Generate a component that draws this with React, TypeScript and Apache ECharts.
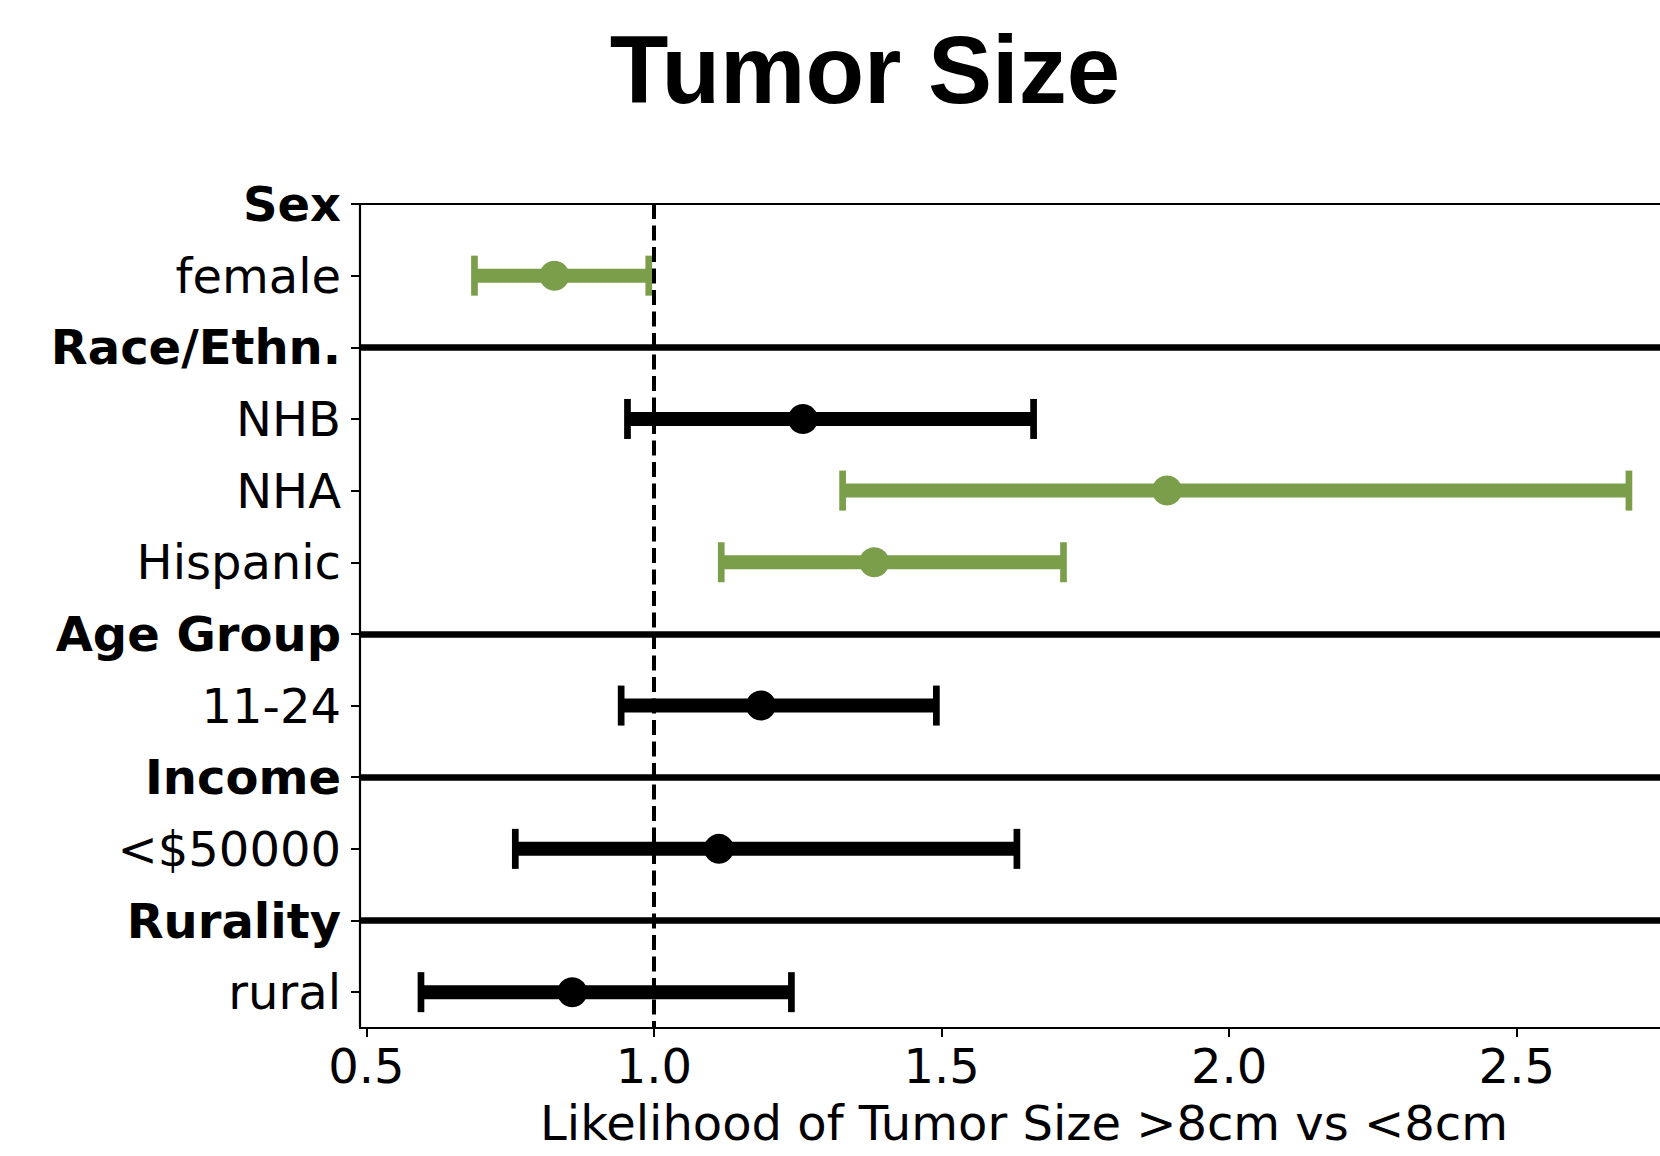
import React, { useEffect, useRef } from "react";
import * as echarts from "echarts";

// ---- data ----
const titleText = "Tumor Size";
const xAxisName = "Likelihood of Tumor Size >8cm vs <8cm";
const rowLabels = [
  "Sex",
  "female",
  "Race/Ethn.",
  "NHB",
  "NHA",
  "Hispanic",
  "Age Group",
  "11-24",
  "Income",
  "<$50000",
  "Rurality",
  "rural",
];
const headerRows = [0, 2, 6, 8, 10];
const dataRows = [1, 3, 4, 5, 7, 9, 11];
const estimates = [0.827, 1.259, 1.892, 1.383, 1.186, 1.113, 0.858];
const lowerCI = [0.688, 0.954, 1.328, 1.117, 0.943, 0.759, 0.595];
const upperCI = [0.991, 1.66, 2.695, 1.712, 1.491, 1.631, 1.239];
const significant = [true, false, true, true, false, false, false];
const xTicks = [0.5, 1.0, 1.5, 2.0, 2.5];
const referenceValue = 1.0;

const GREEN = "#7a9e4a";
const BLACK = "#000000";
const FONT = "DejaVu Sans";
const FS = 48;

export default function App() {
  const ref = useRef<HTMLDivElement>(null);

  useEffect(() => {
    document.body.style.margin = "0";
    if (!ref.current) return;
    const chart = echarts.init(ref.current, null, { renderer: "svg" });

    const seriesData = dataRows.map((r, i) => [
      r,
      lowerCI[i],
      estimates[i],
      upperCI[i],
      significant[i] ? 1 : 0,
    ]);

    const option: any = {
      animation: false,
      backgroundColor: "#ffffff",
      graphic: [
        {
          type: "text",
          x: 865,
          y: 69,
          style: {
            text: titleText,
            textAlign: "center",
            textVerticalAlign: "middle",
            font: 'bold 96px "Liberation Sans"',
            fill: "#000",
          },
        },
        {
          type: "text",
          x: 1024,
          y: 1123,
          style: {
            text: xAxisName,
            textAlign: "center",
            textVerticalAlign: "middle",
            font: FS + 'px "DejaVu Sans"',
            fill: "#000",
          },
        },
      ],
      grid: {
        left: 360,
        top: 204,
        right: 0,
        height: 824,
        containLabel: false,
      },
      xAxis: {
        type: "value",
        min: 0.489,
        max: 2.749,
        axisLine: { show: true, onZero: false, lineStyle: { color: "#000", width: 2.2 } },
        axisTick: {
          show: true,
          customValues: xTicks,
          length: 9,
          lineStyle: { color: "#000", width: 2 },
        },
        axisLabel: {
          customValues: xTicks,
          formatter: (v: number) => v.toFixed(1),
          fontSize: FS,
          fontFamily: FONT,
          color: "#000",
          margin: 14,
        },
        splitLine: { show: false },
      },
      yAxis: {
        type: "value",
        inverse: true,
        min: 0,
        max: 11.5,
        axisLine: { show: true, onZero: false, lineStyle: { color: "#000", width: 2.2 } },
        axisTick: {
          show: true,
          customValues: rowLabels.map((_, i) => i),
          length: 9,
          lineStyle: { color: "#000", width: 2 },
        },
        axisLabel: {
          customValues: rowLabels.map((_, i) => i),
          showMinLabel: true,
          showMaxLabel: true,
          margin: 19,
          formatter: (v: number) => {
            const idx = Math.round(v);
            const t = rowLabels[idx] ?? "";
            return headerRows.includes(idx) ? `{b|${t}}` : `{n|${t}}`;
          },
          rich: {
            b: { fontSize: FS, fontFamily: FONT, fontWeight: "bold", color: "#000" },
            n: { fontSize: FS, fontFamily: FONT, color: "#000" },
          },
        },
        splitLine: { show: false },
      },
      series: [
        {
          type: "custom",
          z: 2,
          encode: { x: [1, 2, 3], y: 0 },
          data: seriesData,
          renderItem: (params: any, api: any) => {
            const y = api.value(0);
            const lo = api.coord([api.value(1), y]);
            const mid = api.coord([api.value(2), y]);
            const hi = api.coord([api.value(3), y]);
            const color = api.value(4) === 1 ? GREEN : BLACK;
            const capH = 20;
            return {
              type: "group",
              children: [
                {
                  type: "line",
                  shape: { x1: lo[0], y1: lo[1], x2: hi[0], y2: hi[1] },
                  style: { stroke: color, lineWidth: 14 },
                },
                {
                  type: "line",
                  shape: { x1: lo[0], y1: lo[1] - capH, x2: lo[0], y2: lo[1] + capH },
                  style: { stroke: color, lineWidth: 6.7 },
                },
                {
                  type: "line",
                  shape: { x1: hi[0], y1: hi[1] - capH, x2: hi[0], y2: hi[1] + capH },
                  style: { stroke: color, lineWidth: 6.7 },
                },
                {
                  type: "circle",
                  shape: { cx: mid[0], cy: mid[1], r: 15 },
                  style: { fill: color },
                },
              ],
            };
          },
        },
        {
          type: "line",
          z: 3,
          data: [],
          markLine: {
            silent: true,
            symbol: "none",
            label: { show: false },
            data: [
              { yAxis: 0, lineStyle: { color: "#000", width: 2.2, type: "solid" } },
              ...headerRows
                .filter((r) => r !== 0)
                .map((r) => ({ yAxis: r, lineStyle: { color: "#000", width: 6.5, type: "solid" } })),
            ],
          },
        },
        {
          type: "line",
          z: 10,
          data: [],
          markLine: {
            silent: true,
            symbol: "none",
            label: { show: false },
            data: [
              {
                xAxis: referenceValue,
                lineStyle: { color: "#000", width: 4, type: [15, 6.5] },
              },
            ],
          },
        },
      ],
    };

    chart.setOption(option);
    return () => chart.dispose();
  }, []);

  return <div ref={ref} style={{ width: 1660, height: 1156 }} />;
}
